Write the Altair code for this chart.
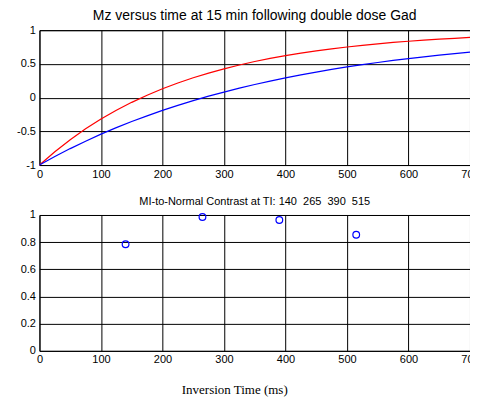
import altair as alt
import pandas as pd

# ---- data ----
t_ms = [0, 25, 50, 75, 100, 125, 150, 175, 200, 225, 250, 275, 300, 325, 350,
        375, 400, 425, 450, 475, 500, 525, 550, 575, 600, 625, 650, 675, 700]
mz_red = [-1.000, -0.802, -0.624, -0.463, -0.318, -0.188, -0.070, 0.035, 0.131,
          0.217, 0.294, 0.364, 0.427, 0.484, 0.535, 0.581, 0.622, 0.660, 0.693,
          0.724, 0.751, 0.776, 0.798, 0.818, 0.836, 0.852, 0.867, 0.880, 0.892]
mz_blue = [-1.000, -0.874, -0.756, -0.646, -0.542, -0.445, -0.355, -0.270, -0.190,
           -0.115, -0.045, 0.021, 0.082, 0.140, 0.194, 0.245, 0.292, 0.337, 0.379,
           0.418, 0.455, 0.489, 0.521, 0.551, 0.579, 0.605, 0.630, 0.653, 0.675]
ti_values = [140, 265, 390, 515]
contrast = [0.785, 0.985, 0.963, 0.855]
x_ticks = [0, 100, 200, 300, 400, 500, 600, 700]
top_y_ticks = [-1, -0.5, 0, 0.5, 1]
bottom_y_ticks = [0, 0.2, 0.4, 0.6, 0.8, 1]
series_names = ["red", "blue"]
series_colors = ["#ff0000", "#0000ff"]

top_title = "Mz versus time at 15 min following double dose Gad"
bottom_title = "MI-to-Normal Contrast at TI: 140\u00a0\u00a0265\u00a0\u00a0390\u00a0\u00a0515"
x_title = "Inversion Time (ms)"

FONT = "Liberation Sans"
W = 431

curves = pd.DataFrame({
    "t": t_ms * 2,
    "mz": mz_red + mz_blue,
    "series": ["red"] * len(t_ms) + ["blue"] * len(t_ms),
})
points = pd.DataFrame({"ti": ti_values, "contrast": contrast})

label_expr = "'' + datum.value"

top = alt.Chart(curves, title=alt.TitleParams(
    top_title, fontSize=14, font=FONT, fontWeight="normal", color="black",
    anchor="middle", offset=1)).mark_line(strokeWidth=1.2).encode(
    x=alt.X("t:Q", scale=alt.Scale(domain=[0, 700], nice=False),
            axis=alt.Axis(values=x_ticks, title=None, labelExpr=label_expr)),
    y=alt.Y("mz:Q", scale=alt.Scale(domain=[-1, 1], nice=False),
            axis=alt.Axis(values=top_y_ticks, title=None, labelExpr=label_expr)),
    color=alt.Color("series:N", scale=alt.Scale(domain=series_names, range=series_colors),
                    legend=None),
).properties(width=W, height=135)

bottom = alt.Chart(points, title=alt.TitleParams(
    bottom_title, fontSize=11, font=FONT, fontWeight="normal", color="black",
    anchor="middle", offset=2)).mark_point(
    shape="circle", filled=False, color="#0000ff", size=45, strokeWidth=1.2, opacity=1).encode(
    x=alt.X("ti:Q", scale=alt.Scale(domain=[0, 700], nice=False),
            axis=alt.Axis(values=x_ticks, title=x_title, labelExpr=label_expr,
                          titleFont="Liberation Serif", titleFontSize=13,
                          titleFontWeight="normal", titleColor="black",
                          titleX=195, titleY=39, titleAlign="center",
                          titleBaseline="middle")),
    y=alt.Y("contrast:Q", scale=alt.Scale(domain=[0, 1], nice=False),
            axis=alt.Axis(values=bottom_y_ticks, title=None, labelExpr=label_expr)),
).properties(width=W, height=136)

chart = alt.vconcat(top, bottom, spacing=15).properties(
    padding={"left": 7.5, "top": 0, "right": -10, "bottom": 0},
    background="white",
).configure_axis(
    grid=True, gridColor="black", gridOpacity=1, gridWidth=1,
    domain=False, ticks=False, labelFlush=False,
    labelFont=FONT, labelFontSize=11, labelColor="black", labelPadding=4,
).configure_axisX(labelPadding=3).configure_view(
    stroke="black", strokeWidth=1
)

chart.save("out.html", embed_options={"renderer": "svg", "actions": False})
